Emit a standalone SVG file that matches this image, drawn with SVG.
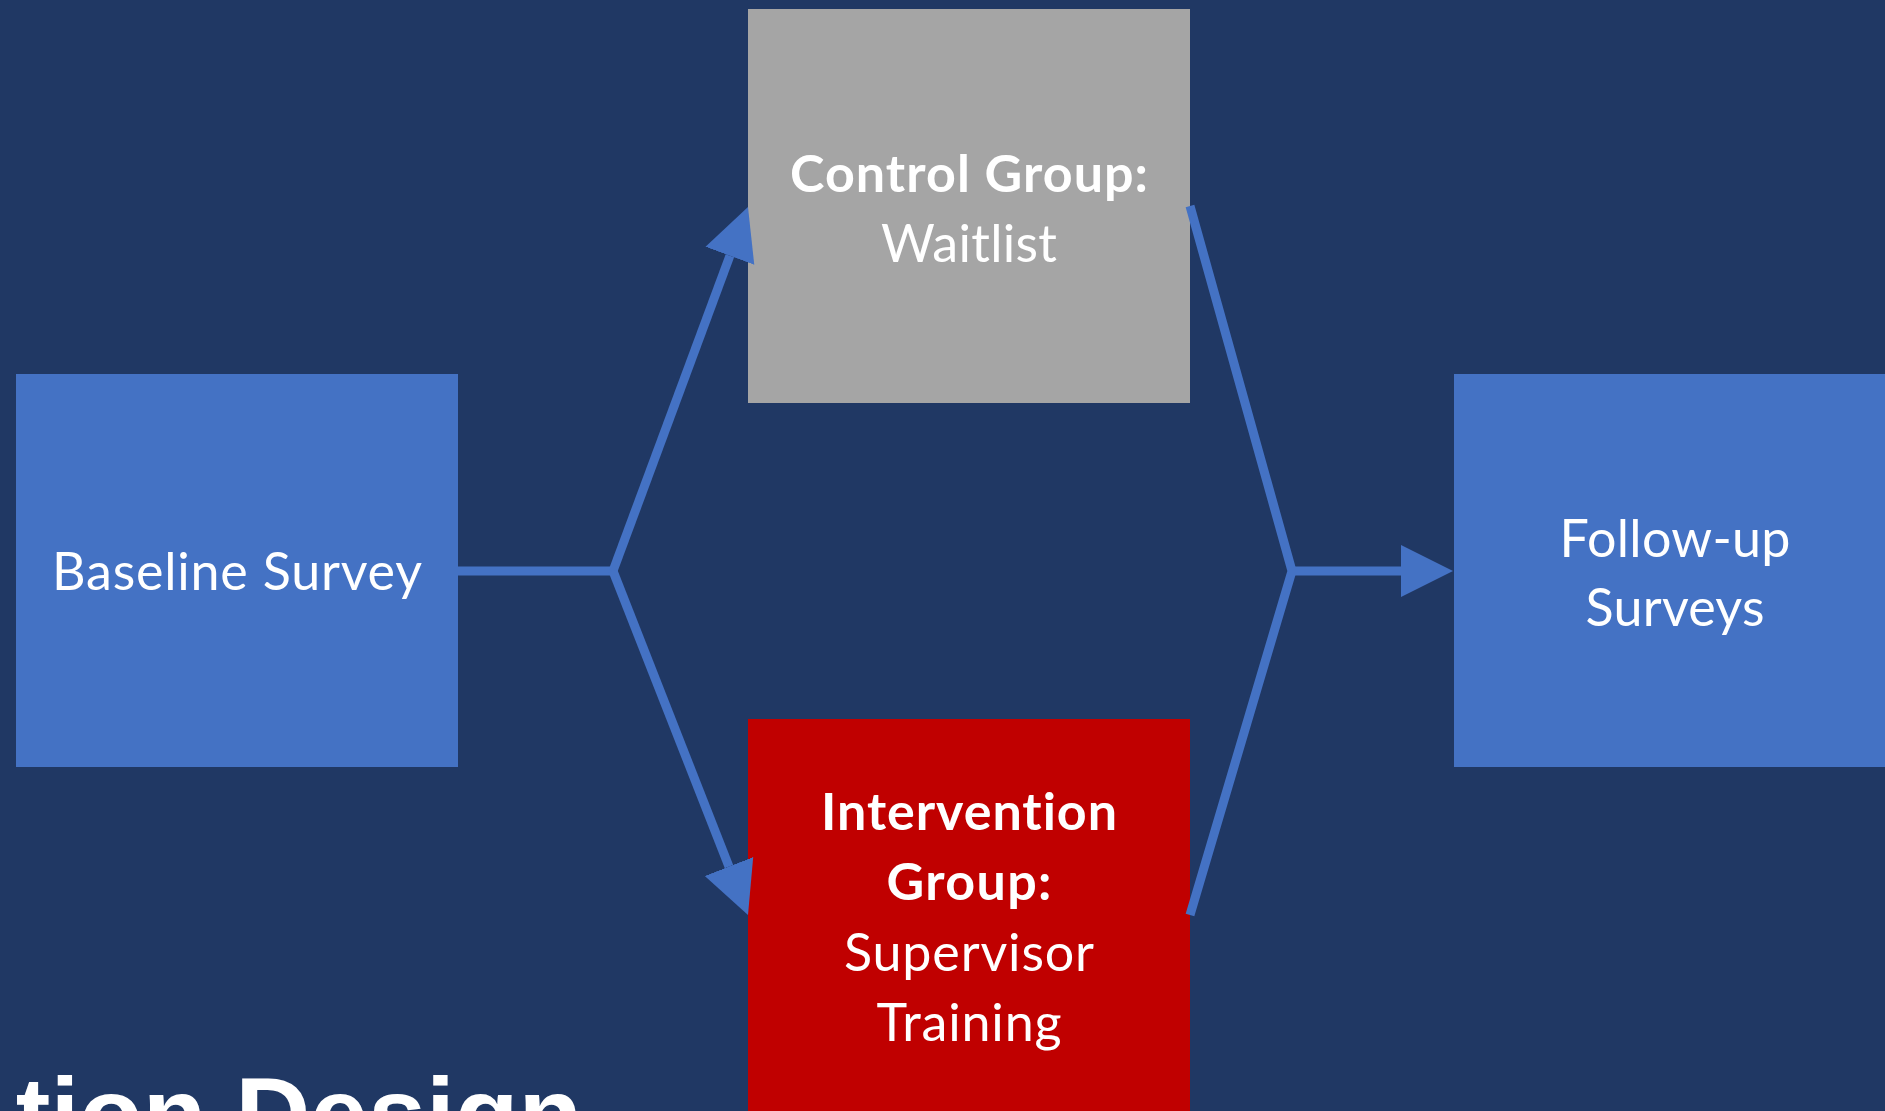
<svg xmlns="http://www.w3.org/2000/svg" width="1885" height="1111" viewBox="0 0 1885 1111">
  <style>
    .bg { fill: #203864; }
    .box-blue { fill: #4472C4; }
    .box-grey { fill: #A5A5A5; }
    .box-red { fill: #C00000; }
    .lbl { font-family: "Lato", "Open Sans", sans-serif; font-size: 52px; fill: #FFFFFF; text-anchor: middle; font-variant-ligatures: none; }
    .b { font-weight: bold; }
    .wire { fill: none; stroke: #4472C4; stroke-width: 9; stroke-linejoin: miter; }
    .title { font-family: "Liberation Sans", Arial, sans-serif; font-weight: bold; font-size: 104px; fill: #FFFFFF; text-anchor: end; }
  </style>
  <defs>
    <marker id="head" markerUnits="userSpaceOnUse" markerWidth="54" markerHeight="54" viewBox="0 -27 54 54" refX="0" refY="0" orient="auto">
      <path d="M0,-26 L52,0 L0,26 Z" fill="#4472C4"/>
    </marker>
  </defs>

  <rect class="bg" x="0" y="0" width="1885" height="1111"/>

  <!-- slide title, running off the lower edge -->
  <text class="title" x="582" y="1150">tion Design</text>

  <g id="baseline">
    <rect class="box-blue" x="16" y="374" width="442" height="393"/>
    <text class="lbl" x="237" y="590" textLength="370">Baseline Survey</text>
  </g>

  <g id="control">
    <rect class="box-grey" x="748" y="9" width="442" height="394"/>
    <text class="lbl b" x="969" y="192" textLength="358">Control Group:</text>
    <text class="lbl" x="969" y="262" textLength="176">Waitlist</text>
  </g>

  <g id="intervention">
    <rect class="box-red" x="748" y="719" width="442" height="394"/>
    <text class="lbl b" x="969" y="830" textLength="296">Intervention</text>
    <text class="lbl b" x="969" y="900" textLength="165">Group:</text>
    <text class="lbl" x="969" y="971" textLength="250">Supervisor</text>
    <text class="lbl" x="969" y="1041" textLength="185">Training</text>
  </g>

  <g id="followup">
    <rect class="box-blue" x="1454" y="374" width="442" height="393"/>
    <text class="lbl" x="1675" y="557" textLength="231">Follow-up</text>
    <text class="lbl" x="1675" y="626" textLength="179">Surveys</text>
  </g>

  <g id="connectors">
    <!-- split: baseline to both groups -->
    <path class="wire" d="M458,571 H613"/>
    <path class="wire" d="M613,571 L729.9,255.8" marker-end="url(#head)"/>
    <path class="wire" d="M613,571 L729,866.6" marker-end="url(#head)"/>
    <!-- merge: both groups to follow-up -->
    <path class="wire" d="M1190,206 L1292,571 L1190,915"/>
    <path class="wire" d="M1292,571 H1401" marker-end="url(#head)"/>
  </g>
</svg>
